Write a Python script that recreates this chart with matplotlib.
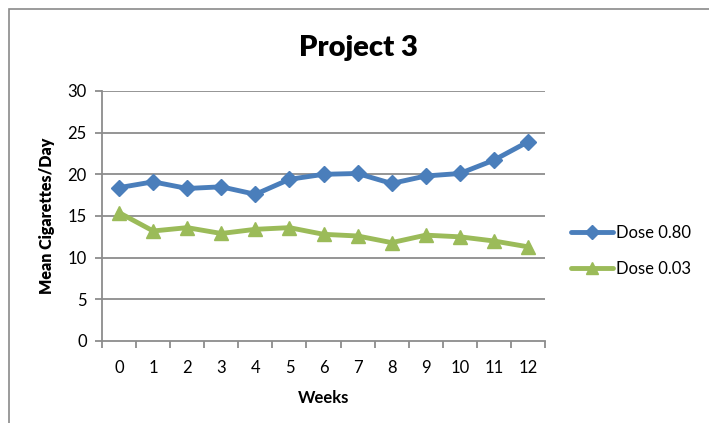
import matplotlib.pyplot as plt
import matplotlib.patches as mpatches
import numpy as np

weeks = [0, 1, 2, 3, 4, 5, 6, 7, 8, 9, 10, 11, 12]
dose_080 = [18.4, 19.1, 18.3, 18.5, 17.6, 19.4, 20.0, 20.1, 18.9, 19.8, 20.1, 21.7, 23.9]
dose_003 = [15.4, 13.2, 13.6, 12.9, 13.4, 13.6, 12.8, 12.6, 11.8, 12.7, 12.5, 12.0, 11.3]
series_names = ["Dose 0.80", "Dose 0.03"]

BLUE = "#4A7EBB"
GREEN = "#9BBB59"
GRID = "#8C8C8C"
FONT = ["Lato", "DejaVu Sans"]

plt.rcParams["font.family"] = FONT

fig = plt.figure(figsize=(7.09, 4.23), dpi=100)
ax = fig.add_axes([0.1439, 0.1939, 0.6248, 0.591])

# chart border (only left and top edges visible)
fig.patches.append(mpatches.Rectangle((9 / 709, -0.1), 1.2, 1.1 - 9 / 423,
                                      transform=fig.transFigure, fill=False,
                                      edgecolor="#8A8A8A", linewidth=1.2))

x = np.arange(len(weeks))
ax.plot(x, dose_080, color=BLUE, lw=3.5, marker="D", markersize=8,
        label=series_names[0], solid_capstyle="round", zorder=3)
ax.plot(x, dose_003, color=GREEN, lw=3.5, marker="^", markersize=10,
        label=series_names[1], solid_capstyle="round", zorder=3)

ax.set_xlim(-0.5, len(weeks) - 0.5)
ax.set_ylim(0, 30)
ax.set_yticks(np.arange(0, 31, 5))
for yv in np.arange(5, 31, 5):
    ax.axhline(yv, color=GRID, lw=1.3, zorder=1)

ax.set_xticks(x)
ax.set_xticklabels([str(w) for w in weeks])
ax.set_xticks(np.arange(-0.5, len(weeks), 1), minor=True)
ax.tick_params(axis="x", which="major", length=0, pad=14, labelsize=12)
ax.tick_params(axis="x", which="minor", length=5, width=1.3, color=GRID, direction="out")
ax.tick_params(axis="y", length=5, width=1.3, color=GRID, labelsize=12, pad=6)

for side in ["top", "right"]:
    ax.spines[side].set_visible(False)
for side in ["left", "bottom"]:
    ax.spines[side].set_color(GRID)
    ax.spines[side].set_linewidth(1.3)

ax.set_xlabel("Weeks", fontsize=12, fontweight="bold", labelpad=10)
ax.set_ylabel("Mean Cigarettes/Day", fontsize=11.5, fontweight="heavy", labelpad=9)

fig.text(358 / 709, 1 - 48 / 423, "Project 3", ha="center", va="center",
         fontsize=21, fontweight="heavy")

ax.legend(loc="center left", bbox_to_anchor=(1.025, 0.36), frameon=False,
          fontsize=12, handlelength=2.5, handletextpad=0.2, labelspacing=1.2,
          markerscale=0.9)

fig.savefig("out.png", dpi=100)
